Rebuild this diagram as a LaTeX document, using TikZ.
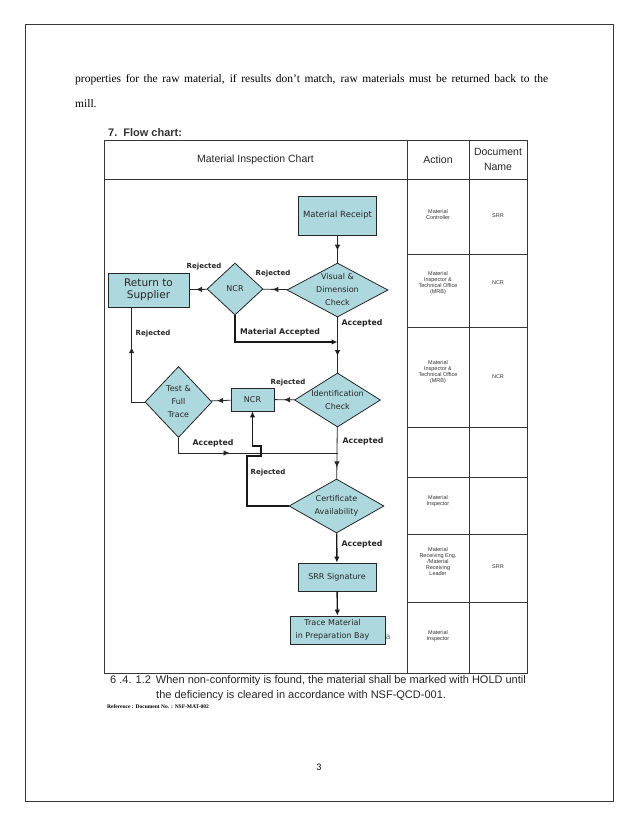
\documentclass[tikz,border=0pt]{standalone}
\usepackage{fontspec}
\setmainfont{Liberation Serif}
\setsansfont{Liberation Sans}
\newfontfamily\flowfont{DejaVu Sans}
\newfontfamily\pagefont{Carlito}
\usetikzlibrary{shapes.geometric,arrows.meta,decorations.markings}
\definecolor{boxfill}{RGB}{173,216,222}
\definecolor{rulegray}{RGB}{55,55,55}

\begin{document}
\begin{tikzpicture}[x=1pt,y=-1pt,
    flowbox/.style={draw=black!85, line width=0.8pt, fill=boxfill, inner sep=1pt,
        font=\flowfont\fontsize{8}{13}\selectfont, align=center, text=black!85},
    decision/.style={diamond, draw=black!85, line width=0.8pt, fill=boxfill, inner sep=-8pt,
        font=\flowfont\fontsize{8}{13}\selectfont, align=center, text=black!85},
    conn/.style={draw=black!85, line width=0.8pt},
    heavy/.style={draw=black!90, line width=1.4pt},
    tip/.style={-{Latex[length=6pt,width=5.5pt]}},
    midtip/.style={postaction={decorate}, decoration={markings,
        mark=at position #1 with {\arrow{Latex[length=6pt,width=5.5pt]}}}},
    midtip/.default=0.6,
    lblbig/.style={font=\flowfont\bfseries\fontsize{7.8}{9}\selectfont, inner sep=0pt, text=black!85},
    lblsmall/.style={font=\flowfont\bfseries\fontsize{7}{8}\selectfont, inner sep=0pt, text=black!85},
    cell/.style={font=\sffamily\fontsize{5.5}{6}\selectfont, align=center, inner sep=0pt, text=black!80},
    head/.style={font=\sffamily\fontsize{10.5}{15}\selectfont, align=center, inner sep=0pt, text=black!85}
]
    \useasboundingbox (0,0) rectangle (638,826);
    \fill[white] (0,0) rectangle (638,826);

    % Page frame and running text
    \draw[rulegray, line width=1pt] (25,25) rectangle (613,801);
    \node[anchor=west, inner sep=0pt, font=\fontsize{11.5}{13}\selectfont] (para1) at (75,80)
        {\makebox[473pt][s]{properties for the raw material, if results don’t match, raw materials must be returned back to the}};
    \node[anchor=west, inner sep=0pt, font=\fontsize{11.5}{13}\selectfont] (para2) at (75,104) {mill.};
    \node[anchor=west, inner sep=0pt, font=\sffamily\bfseries\fontsize{11}{12}\selectfont, text=black!80] (title) at (108,133)
        {7.\hspace{6pt}Flow chart:};

    % Table
    \draw[rulegray, line width=0.9pt] (104,140) rectangle (527,673);
    \draw[rulegray, line width=0.9pt] (407,140) -- (407,673) (469,140) -- (469,673) (104,179) -- (527,179);
    \foreach \y in {254,327,427,477,534,602}
        \draw[rulegray, line width=0.9pt] (407,\y) -- (527,\y);

    \node[head] (hchart) at (255.5,160) {Material Inspection Chart};
    \node[head] (haction) at (438,160) {Action};
    \node[head] (hdoc) at (498,159) {Document\\Name};

    \node[cell] (act1) at (438,215) {Material\\Controller};
    \node[cell] (act2) at (438,283) {Material\\Inspector \&\\Technical Office\\(MRB)};
    \node[cell] (act3) at (438,372) {Material\\Inspector \&\\Technical Office\\(MRB)};
    \node[cell] (act5) at (438,501) {Material\\Inspector};
    \node[cell] (act6) at (438,562) {Material\\Receiving Eng.\\/Material\\Receiving\\Leader};
    \node[cell] (act7) at (438,636) {Material\\Inspector};
    \node[cell] (doc1) at (498,216) {SRR};
    \node[cell] (doc2) at (498,283) {NCR};
    \node[cell] (doc3) at (498,377) {NCR};
    \node[cell] (doc6) at (498,567) {SRR};

    % Flow chart steps
    \node[flowbox, minimum width=78pt, minimum height=39pt, font=\flowfont\fontsize{8.5}{10}\selectfont] (receipt) at (337.5,215.5) {Material Receipt};
    \node[decision, shape aspect=1.87, minimum width=101pt, minimum height=54pt] (visual) at (337.5,290) {Visual \&\\Dimension\\Check};
    \node[decision, minimum width=56pt, minimum height=52pt] (ncrA) at (235,289) {NCR};
    \node[flowbox, minimum width=81pt, minimum height=34pt, font=\flowfont\fontsize{10.5}{12.5}\selectfont] (ret) at (148.5,290) {Return to\\Supplier};
    \node[decision, shape aspect=1.6, minimum width=86pt, minimum height=54pt] (ident) at (337.5,400) {Identification\\Check};
    \node[flowbox, minimum width=43pt, minimum height=23pt] (ncrB) at (252.5,399.5) {NCR};
    \node[decision, minimum width=67pt, minimum height=71pt] (test) at (178.5,402) {Test \&\\Full\\Trace};
    \node[decision, shape aspect=1.75, minimum width=95pt, minimum height=54pt] (cert) at (336.5,506) {Certificate\\Availability};
    \node[flowbox, minimum width=78pt, minimum height=28pt] (srr) at (337,577) {SRR Signature};
    \node[flowbox, minimum width=95pt, minimum height=28pt] (trace) at (337.5,630) {Trace Material\hspace*{10pt}\\in Preparation Bay\hspace*{10pt}};
    \node[inner sep=0pt, font=\flowfont\fontsize{8}{9}\selectfont, text=black!60] (strayA) at (388,637) {a};

    % Helper points
    \coordinate (axisA) at (337.5,342);
    \coordinate (axisB) at (337.5,453);
    \coordinate (retfoot) at ([xshift=24pt]ret.south west);
    \coordinate (hopL) at (247,456);
    \coordinate (hopR) at (261,446);

    % Connections
    \draw[conn, midtip=0.56] (receipt) -- (visual);
    \draw[conn, midtip=0.62] (visual) -- (ncrA);
    \draw[conn, midtip=0.62] (ncrA) -- (ret);
    \draw[heavy, tip] (ncrA.south) |- (axisA);
    \draw[conn, midtip=0.7] (visual) -- (ident);
    \draw[conn, midtip=0.52] (ident) -- (ncrB);
    \draw[conn, midtip=0.7] (ncrB) -- (test);
    \draw[conn, midtip=0.63] (test.west) -| (retfoot);
    \draw[conn, midtip=0.38] (test.south) |- (axisB);
    \draw[conn, midtip=0.78] (ident) -- (cert);
    \draw[heavy, tip] (cert.west) -| (hopL) -| (hopR) -| (ncrB.south);
    \draw[heavy, tip] (cert) -- (srr);
    \draw[heavy, tip] (srr) -- (trace);

    % Connector labels
    \node[lblsmall] (rejA) at (204,267) {Rejected};
    \node[lblsmall] (rejB) at (273,274) {Rejected};
    \node[lblbig] (matacc) at (280,332) {Material Accepted};
    \node[lblbig] (accA) at (362,323) {Accepted};
    \node[lblsmall] (rejC) at (153,334) {Rejected};
    \node[lblsmall] (rejD) at (288,383) {Rejected};
    \node[lblbig] (accB) at (213,443) {Accepted};
    \node[lblbig] (accC) at (363,441) {Accepted};
    \node[lblsmall] (rejE) at (268,473) {Rejected};
    \node[lblbig] (accD) at (362,544) {Accepted};

    % Notes under the table
    \node[anchor=west, inner sep=0pt, font=\sffamily\fontsize{11}{12}\selectfont, text=black!85] (note1) at (110,681)
        {6 .4. 1.2\hspace{5pt}When non-conformity is found, the material shall be marked with HOLD until};
    \node[anchor=west, inner sep=0pt, font=\sffamily\fontsize{11}{12}\selectfont, text=black!85] (note2) at (156,696)
        {the deficiency is cleared in accordance with NSF-QCD-001.};
    \node[anchor=west, inner sep=0pt, font=\bfseries\fontsize{5.5}{6}\selectfont] (refline) at (107,707)
        {Reference : Document No. : NSF-MAT-002};
    \node[inner sep=0pt, font=\pagefont\fontsize{10}{12}\selectfont] (pagenum) at (319,767) {3};
\end{tikzpicture}
\end{document}
